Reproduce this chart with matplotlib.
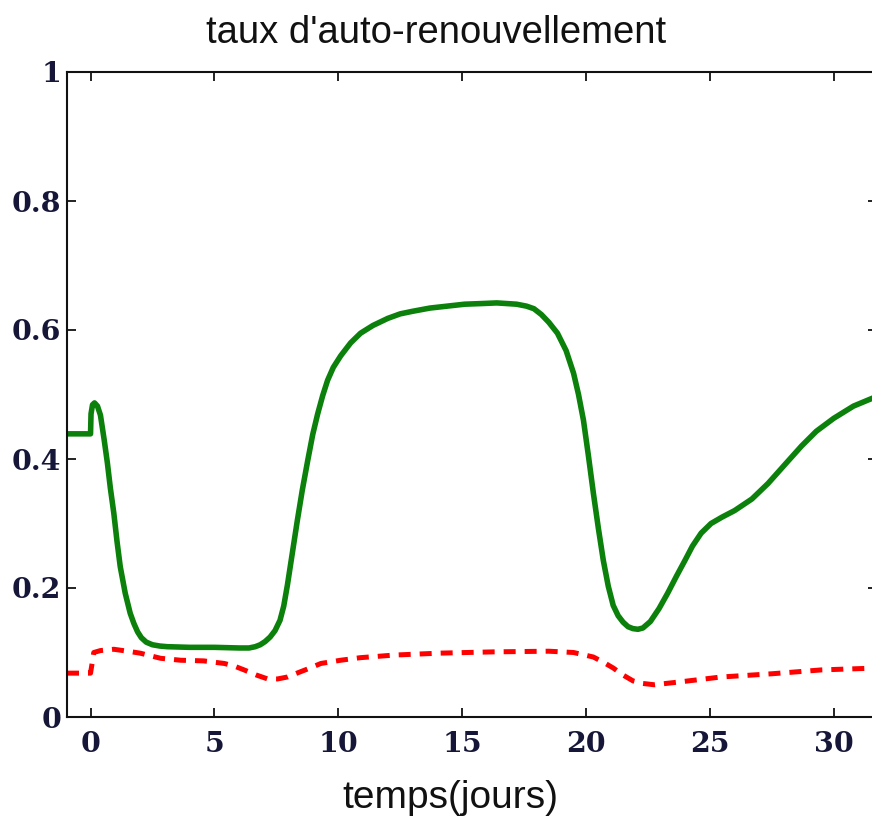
import matplotlib.pyplot as plt

t_vert = [-0.95, 0.0, 0.02, 0.08, 0.16, 0.28, 0.4, 0.55, 0.68, 0.8, 0.94, 1.07, 1.2, 1.4,
          1.6, 1.75, 1.9, 2.05, 2.25, 2.5, 2.8, 3.1, 4.0, 5.0, 6.0, 6.4, 6.65, 6.85, 7.05,
          7.25, 7.45, 7.65, 7.8, 7.95, 8.15, 8.35, 8.55, 8.77, 8.97, 9.17, 9.37, 9.57, 9.8,
          10.1, 10.5, 10.9, 11.4, 12.0, 12.5, 13.0, 13.7, 14.4, 15.1, 15.8, 16.4, 17.2,
          17.6, 17.9, 18.2, 18.5, 18.85, 19.2, 19.5, 19.7, 19.9, 20.1, 20.3, 20.5, 20.7,
          20.9, 21.1, 21.3, 21.5, 21.7, 21.9, 22.1, 22.3, 22.6, 22.95, 23.3, 23.65, 24.0,
          24.3, 24.65, 25.05, 25.5, 26.0, 26.7, 27.35, 28.0, 28.7, 29.3, 30.0, 30.8, 31.8]
taux_vert = [0.439, 0.439, 0.47, 0.484, 0.487, 0.482, 0.468, 0.43, 0.394, 0.355, 0.316,
             0.272, 0.233, 0.192, 0.161, 0.145, 0.132, 0.123, 0.116, 0.112, 0.110, 0.109,
             0.108, 0.108, 0.107, 0.107, 0.109, 0.112, 0.117, 0.124, 0.134, 0.15, 0.172,
             0.205, 0.255, 0.305, 0.352, 0.398, 0.438, 0.47, 0.498, 0.522, 0.542, 0.56,
             0.58, 0.595, 0.607, 0.618, 0.625, 0.629, 0.634, 0.637, 0.640, 0.641, 0.642,
             0.640, 0.637, 0.633, 0.624, 0.612, 0.595, 0.568, 0.533, 0.5, 0.46, 0.405,
             0.347, 0.293, 0.243, 0.203, 0.173, 0.157, 0.147, 0.140, 0.137, 0.136, 0.138,
             0.148, 0.168, 0.192, 0.218, 0.243, 0.265, 0.285, 0.300, 0.310, 0.320, 0.338,
             0.362, 0.39, 0.42, 0.443, 0.463, 0.482, 0.498]

t_rouge = [-0.95, 0.0, 0.05, 0.13, 0.4, 0.94, 1.5, 2.0, 2.83, 3.64, 4.57, 5.4, 5.8, 6.2,
           6.7, 7.15, 7.55, 7.95, 8.4, 8.8, 9.3, 10.1, 10.9, 12.25, 14.1, 16.3, 18.5,
           19.5, 20.3, 20.7, 21.1, 21.5, 21.9, 22.3, 22.75, 23.7, 25.45, 27.5, 29.5, 31.8]
taux_rouge = [0.068, 0.068, 0.08, 0.100, 0.103, 0.105, 0.102, 0.099, 0.091, 0.088, 0.087,
              0.083, 0.079, 0.073, 0.065, 0.059, 0.059, 0.062, 0.069, 0.075, 0.083, 0.088,
              0.092, 0.096, 0.099, 0.101, 0.102, 0.100, 0.093, 0.085, 0.076, 0.065, 0.056,
              0.052, 0.050, 0.054, 0.062, 0.067, 0.073, 0.076]

xticks = [0, 5, 10, 15, 20, 25, 30]
yticks = [0, 0.2, 0.4, 0.6, 0.8, 1]
ytick_labels = ['0', '0.2', '0.4', '0.6', '0.8', '1']

fig = plt.figure(figsize=(8.72, 8.23), dpi=100)
# the right border of the frame runs just past the edge of the image
ax = fig.add_axes([67 / 872, 106 / 823, 810 / 872, 645 / 823])

ax.plot(t_vert, taux_vert, color='#0b800b', lw=4.0, solid_joinstyle='round')
ax.plot(t_rouge, taux_rouge, color='#ff0000', lw=3.6, dashes=(2.4, 1.8),
        dash_capstyle='butt')

ax.set_xlim(-0.95, 31.75)
ax.set_ylim(0, 1)
ax.set_xticks(xticks)
ax.set_yticks(yticks)
ax.set_yticklabels(ytick_labels)

for s in ax.spines.values():
    s.set_linewidth(1.5)
    s.set_color('#111111')

ax.tick_params(direction='in', length=6.5, width=1.3, top=True, right=True,
               color='#111111', labelcolor='#161638')
ax.tick_params(axis='x', pad=10)
ax.tick_params(axis='y', pad=4)
for lab in ax.get_xticklabels() + ax.get_yticklabels():
    lab.set_fontfamily('DejaVu Serif')
    lab.set_fontweight('bold')
    lab.set_fontsize(20.5)

fig.text(0.5, 1 - 43 / 823, "taux d'auto-renouvellement", ha='center', va='baseline',
         fontsize=27.5, family='Liberation Sans', color='#111111')
fig.text(450 / 872, 1 - 808 / 823, 'temps(jours)', ha='center', va='baseline',
         fontsize=28, family='Liberation Sans', color='#111111')

fig.savefig('out.png', dpi=100)
